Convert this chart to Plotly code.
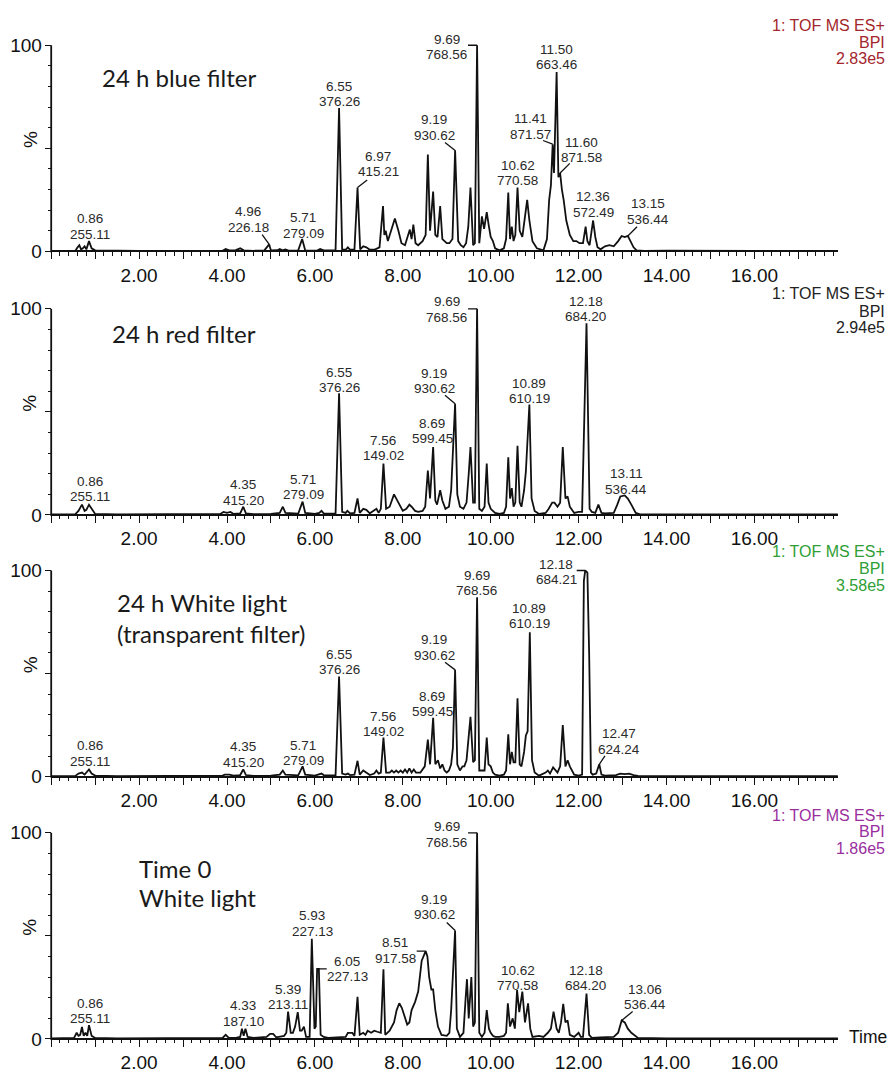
import plotly.graph_objects as go

W, H = 892, 1073

# ---------------- data: chromatogram traces (retention time [min], intensity [%]) ----------------
BLUE_TRACE = [
    (0.0, 0.3), (0.55, 0.3), (0.6, 2), (0.64, 3), (0.68, 1), (0.72, 1.5), (0.76, 2.5), (0.8, 1), (0.86, 5),
    (0.92, 1.5), (1.0, 0.5), (1.5, 0.3), (2.0, 0.2), (3.0, 0.2), (3.9, 0.3), (3.97, 1.2), (4.05, 0.5),
    (4.2, 0.6), (4.3, 1.5), (4.38, 0.5), (4.6, 0.3), (4.85, 0.5), (4.92, 2.5), (4.96, 3.4), (5.0, 0.5),
    (5.15, 0.6), (5.2, 1.2), (5.26, 0.5), (5.33, 1), (5.4, 0.4), (5.62, 0.5), (5.71, 6), (5.78, 0.5),
    (6.05, 0.4), (6.12, 1.2), (6.2, 0.5), (6.3, 0.5), (6.47, 0.6), (6.55, 69.5), (6.62, 1), (6.7, 0.8),
    (6.75, 2), (6.8, 0.8), (6.9, 1), (6.97, 31), (7.03, 1), (7.1, 2.5), (7.17, 2), (7.25, 0.8), (7.35, 0.8),
    (7.47, 2), (7.55, 22), (7.58, 8), (7.61, 10), (7.66, 5), (7.72, 9), (7.82, 16), (7.9, 10), (7.97, 4),
    (8.05, 3), (8.1, 6), (8.16, 10.6), (8.2, 6), (8.24, 13), (8.29, 4), (8.35, 3), (8.45, 5), (8.52, 8),
    (8.57, 47), (8.62, 10), (8.69, 29), (8.74, 8), (8.79, 7), (8.85, 22), (8.9, 6), (8.95, 5), (9.0, 4),
    (9.06, 4), (9.13, 6), (9.19, 49), (9.26, 5), (9.32, 3), (9.38, 2), (9.44, 4), (9.49, 12), (9.54, 31),
    (9.6, 3), (9.64, 4), (9.69, 100), (9.74, 4), (9.8, 17), (9.85, 11), (9.91, 19), (9.96, 12), (10.0, 7),
    (10.05, 5), (10.1, 1.5), (10.2, 0.5), (10.3, 1.5), (10.35, 6), (10.4, 28.5), (10.44, 6), (10.48, 12),
    (10.52, 5), (10.56, 8), (10.61, 31), (10.66, 10), (10.72, 7), (10.78, 18), (10.83, 25), (10.88, 15),
    (10.95, 5), (11.05, 1.5), (11.2, 0.5), (11.28, 6), (11.33, 25), (11.37, 32), (11.41, 52), (11.44, 38),
    (11.5, 87), (11.54, 36), (11.58, 38), (11.62, 30), (11.66, 25), (11.72, 15), (11.8, 8), (11.88, 5),
    (11.95, 5), (12.02, 4), (12.1, 4), (12.16, 12), (12.2, 5), (12.25, 3), (12.33, 15), (12.38, 7),
    (12.43, 2), (12.5, 1), (12.6, 2.5), (12.7, 3), (12.8, 2.5), (12.9, 5), (12.98, 7.5), (13.05, 7),
    (13.12, 7.5), (13.18, 5), (13.25, 2), (13.32, 0.5), (13.5, 0.3), (14.0, 0.4), (14.5, 0.3), (15.0, 0.3),
    (16.0, 0.3), (17.0, 0.3), (17.9, 0.3),
]

RED_TRACE = [
    (0.0, 0.3), (0.55, 0.4), (0.62, 2), (0.7, 5), (0.76, 2), (0.8, 2.5), (0.86, 5), (0.92, 3), (1.0, 0.5),
    (1.5, 0.3), (3.0, 0.3), (3.85, 0.5), (3.92, 1.5), (4.0, 1), (4.08, 1.5), (4.15, 0.5), (4.3, 0.8),
    (4.37, 4), (4.43, 0.8), (4.6, 0.4), (5.0, 0.5), (5.2, 1), (5.27, 4), (5.33, 1), (5.62, 0.6), (5.72, 6.5),
    (5.78, 1), (6.0, 0.5), (6.1, 1), (6.15, 2), (6.2, 0.8), (6.47, 0.6), (6.55, 59), (6.62, 1.5), (6.7, 1),
    (6.74, 2), (6.8, 0.8), (6.9, 1), (6.97, 8), (7.02, 1), (7.1, 3), (7.17, 2.5), (7.25, 0.8), (7.4, 3),
    (7.45, 1), (7.5, 3), (7.56, 25), (7.62, 3), (7.7, 4), (7.8, 10), (7.9, 6), (8.0, 2), (8.08, 3), (8.15, 5),
    (8.2, 4), (8.28, 2), (8.35, 1.5), (8.45, 2), (8.51, 4), (8.57, 21.6), (8.62, 8), (8.69, 33), (8.74, 7),
    (8.78, 5), (8.85, 12), (8.9, 7), (8.97, 3), (9.05, 4), (9.1, 12), (9.14, 30), (9.19, 54), (9.24, 10),
    (9.3, 4), (9.38, 3), (9.45, 6), (9.5, 20), (9.54, 33), (9.6, 6), (9.64, 6), (9.69, 100), (9.74, 3),
    (9.8, 2), (9.86, 4), (9.91, 25), (9.95, 6), (10.0, 3), (10.1, 1), (10.2, 0.5), (10.3, 1), (10.35, 4),
    (10.4, 28), (10.44, 8), (10.48, 13), (10.52, 4), (10.56, 6), (10.61, 33.6), (10.66, 6), (10.7, 4),
    (10.76, 12), (10.8, 21), (10.88, 53.6), (10.93, 8), (11.0, 2), (11.1, 0.5), (11.25, 1), (11.32, 3),
    (11.4, 6), (11.45, 6), (11.52, 4), (11.58, 6), (11.64, 33), (11.7, 8), (11.75, 9), (11.8, 4), (11.9, 1),
    (12.0, 1.5), (12.08, 1.5), (12.18, 93), (12.25, 3), (12.3, 1.5), (12.38, 1), (12.45, 5), (12.52, 1),
    (12.6, 0.8), (12.8, 1), (12.88, 5), (12.95, 9), (13.05, 9.5), (13.12, 8), (13.2, 5), (13.3, 1),
    (13.4, 0.3), (14.0, 0.3), (15.0, 0.4), (16.0, 0.3), (17.0, 0.3), (17.9, 0.3),
]

WHITE_TRACE = [
    (0.0, 0.3), (0.55, 0.4), (0.62, 1.5), (0.7, 2), (0.76, 1), (0.8, 2), (0.86, 3.5), (0.92, 1.5), (1.0, 0.5),
    (1.5, 0.3), (3.0, 0.3), (3.9, 0.5), (3.95, 1), (4.05, 1), (4.15, 0.5), (4.3, 0.8), (4.37, 3.5),
    (4.43, 0.8), (4.6, 0.4), (5.0, 0.5), (5.2, 1), (5.27, 3), (5.33, 1), (5.62, 0.6), (5.72, 5), (5.78, 1),
    (6.0, 0.5), (6.1, 1), (6.15, 1.5), (6.2, 0.8), (6.47, 0.6), (6.55, 48.6), (6.62, 1.5), (6.7, 1),
    (6.75, 1.5), (6.8, 0.8), (6.9, 1), (6.97, 7.7), (7.02, 1), (7.1, 3), (7.17, 2), (7.25, 0.8), (7.35, 1.5),
    (7.4, 3), (7.45, 1.5), (7.5, 2), (7.56, 19), (7.62, 2), (7.7, 2), (7.75, 3), (7.8, 2), (7.85, 3),
    (7.9, 2), (7.95, 3), (8.0, 2), (8.05, 3.5), (8.1, 2), (8.15, 4), (8.2, 2), (8.25, 3.5), (8.3, 2),
    (8.4, 2), (8.5, 5), (8.57, 18), (8.62, 6), (8.69, 28.5), (8.74, 6), (8.8, 8), (8.85, 4), (8.9, 6),
    (8.95, 3), (9.0, 2), (9.05, 3), (9.1, 6), (9.14, 14), (9.19, 51.8), (9.24, 6), (9.3, 3), (9.36, 5),
    (9.4, 5), (9.45, 8), (9.5, 18), (9.54, 29), (9.6, 7), (9.64, 8), (9.69, 87), (9.74, 3), (9.8, 3),
    (9.86, 3), (9.91, 19), (9.95, 6), (10.0, 5), (10.05, 2), (10.1, 1), (10.2, 0.5), (10.3, 1), (10.35, 3),
    (10.4, 20.5), (10.44, 6), (10.48, 12), (10.52, 7), (10.56, 7), (10.61, 38), (10.66, 6), (10.7, 5),
    (10.76, 12), (10.8, 20), (10.84, 22), (10.89, 70), (10.94, 8), (11.0, 2), (11.1, 0.5), (11.2, 1.5),
    (11.25, 2), (11.3, 3), (11.35, 1.5), (11.42, 4.5), (11.47, 3), (11.52, 2), (11.58, 5), (11.64, 25),
    (11.7, 5), (11.75, 8), (11.8, 5), (11.9, 1), (12.0, 0.5), (12.08, 1), (12.12, 95), (12.15, 100),
    (12.2, 99), (12.24, 60), (12.28, 2), (12.32, 1), (12.4, 1.5), (12.47, 6), (12.52, 1), (12.6, 0.5),
    (12.85, 0.8), (12.95, 1.5), (13.05, 1.2), (13.15, 1.5), (13.25, 0.8), (13.35, 0.4), (14.0, 0.3),
    (17.9, 0.3),
]

TIME0_TRACE = [
    (0.0, 0.3), (0.52, 0.5), (0.58, 3), (0.62, 1.5), (0.66, 2), (0.7, 5.8), (0.74, 1.5), (0.78, 3),
    (0.82, 1.5), (0.86, 6.7), (0.92, 1.5), (1.0, 0.5), (1.5, 0.3), (3.0, 0.3), (3.9, 0.5), (3.97, 2),
    (4.04, 0.5), (4.2, 0.5), (4.3, 1), (4.34, 5), (4.38, 1.5), (4.42, 5), (4.47, 1), (4.6, 0.5), (4.9, 1),
    (4.98, 2.5), (5.05, 2.5), (5.12, 0.8), (5.2, 1), (5.3, 1.5), (5.35, 3), (5.39, 13.3), (5.45, 3),
    (5.5, 3), (5.55, 6), (5.61, 13), (5.66, 4), (5.7, 4), (5.75, 6), (5.8, 1), (5.88, 1), (5.93, 48.6),
    (5.99, 5), (6.02, 6), (6.05, 34), (6.09, 34), (6.13, 2), (6.2, 1), (6.3, 0.5), (6.5, 0.8), (6.7, 1),
    (6.75, 3), (6.85, 3), (6.9, 1.5), (6.97, 20.5), (7.02, 2), (7.1, 3), (7.15, 2), (7.2, 4), (7.28, 3),
    (7.35, 4), (7.42, 3.5), (7.5, 3), (7.56, 33.8), (7.6, 2), (7.7, 4), (7.8, 8), (7.86, 14), (7.92, 17.3),
    (7.98, 15), (8.05, 10), (8.1, 7), (8.15, 8), (8.2, 14), (8.28, 18), (8.35, 23), (8.43, 38), (8.48, 41),
    (8.52, 42.6), (8.56, 40), (8.6, 30), (8.65, 24), (8.69, 24), (8.74, 14), (8.8, 6), (8.88, 2),
    (8.95, 1.5), (9.0, 1.5), (9.06, 3), (9.1, 14), (9.19, 52.6), (9.23, 5), (9.3, 1), (9.38, 3), (9.43, 20),
    (9.46, 29), (9.5, 10), (9.53, 20), (9.56, 30), (9.6, 6), (9.64, 8), (9.69, 100), (9.74, 3), (9.8, 1),
    (9.86, 3), (9.91, 14), (9.96, 5), (10.0, 3), (10.05, 1.5), (10.1, 1), (10.2, 1), (10.3, 1.5),
    (10.35, 3), (10.39, 17.3), (10.44, 6), (10.5, 10), (10.55, 5), (10.6, 23.7), (10.65, 13), (10.72, 23),
    (10.78, 8), (10.85, 17.3), (10.9, 5), (10.95, 1), (11.1, 1.5), (11.2, 1), (11.3, 3), (11.37, 5),
    (11.43, 13.3), (11.5, 5), (11.55, 3), (11.6, 8), (11.65, 17), (11.7, 8), (11.75, 9), (11.8, 2),
    (11.9, 1), (12.0, 3), (12.05, 1), (12.1, 1), (12.18, 22), (12.24, 2), (12.3, 0.5), (12.5, 0.8),
    (12.7, 0.8), (12.8, 1), (12.9, 3), (12.98, 9), (13.05, 8), (13.12, 5), (13.2, 3), (13.28, 1.5),
    (13.35, 0.5), (14.0, 0.3), (17.9, 0.3),
]

# peak labels: (retention time, m/z)
BLUE_LABELS = [("0.86", "255.11"), ("4.96", "226.18"), ("5.71", "279.09"), ("6.55", "376.26"),
               ("6.97", "415.21"), ("9.69", "768.56"), ("9.19", "930.62"), ("10.62", "770.58"),
               ("11.41", "871.57"), ("11.50", "663.46"), ("11.60", "871.58"), ("12.36", "572.49"),
               ("13.15", "536.44")]
RED_LABELS = [("0.86", "255.11"), ("4.35", "415.20"), ("5.71", "279.09"), ("6.55", "376.26"),
              ("7.56", "149.02"), ("8.69", "599.45"), ("9.19", "930.62"), ("9.69", "768.56"),
              ("10.89", "610.19"), ("12.18", "684.20"), ("13.11", "536.44")]
WHITE_LABELS = [("0.86", "255.11"), ("4.35", "415.20"), ("5.71", "279.09"), ("6.55", "376.26"),
                ("7.56", "149.02"), ("8.69", "599.45"), ("9.19", "930.62"), ("9.69", "768.56"),
                ("10.89", "610.19"), ("12.18", "684.21"), ("12.47", "624.24")]
TIME0_LABELS = [("0.86", "255.11"), ("4.33", "187.10"), ("5.39", "213.11"), ("5.93", "227.13"),
                ("6.05", "227.13"), ("8.51", "917.58"), ("9.19", "930.62"), ("9.69", "768.56"),
                ("10.62", "770.58"), ("12.18", "684.20"), ("13.06", "536.44")]

# leader lines: ((start t, start %), (peak t, peak %))
BLUE_LEADERS = [((4.80, 8.2), (4.96, 3.4)), ((7.19, 34.6), (6.97, 31)), ((9.484, 100), (9.69, 100)),
                ((8.96, 52.8), (9.19, 49)), ((11.19, 53.8), (11.41, 52)), ((11.80, 42.7), (11.58, 38)),
                ((13.33, 12), (13.12, 7.5))]
RED_LEADERS = [((8.96, 58.1), (9.19, 54)), ((9.484, 100), (9.69, 100))]
WHITE_LEADERS = [((8.96, 55.5), (9.19, 51.8)), ((11.957, 100), (12.15, 100)), ((12.60, 10.1), (12.47, 6))]
TIME0_LEADERS = [((6.27, 34), (6.09, 34)), ((8.316, 42.6), (8.52, 42.6)), ((9.0, 56.5), (9.19, 52.6)),
                 ((9.484, 100), (9.69, 100)), ((13.23, 13.3), (12.98, 9))]

PANEL_TITLES = [["24 h blue filter"], ["24 h red filter"],
                ["24 h White light", "(transparent filter)"], ["Time 0", "White light"]]
SCALE_TEXT = ["2.83e5", "2.94e5", "3.58e5", "1.86e5"]

# axis ticks: fine ruler every 0.2 min, long ticks every minute, labels every 2 min
X_FINE_TICKS = [round(0.2 * k, 1) for k in range(90)]
X_FINE_TEXT = [f"{v:.2f}" if (v > 0 and abs(v - round(v)) < 1e-9 and round(v) % 2 == 0) else ""
               for v in X_FINE_TICKS]
X_LONG_TICKS = list(range(0, 18))
Y_FINE_TICKS = list(range(0, 101, 10))
Y_FINE_TEXT = ["0" if v == 0 else ("100" if v == 100 else "") for v in Y_FINE_TICKS]
Y_LONG_TICKS = [0, 50, 100]

# ---------------- layout (pixel placements) ----------------
X0PX, PXPM, XMAX = 51.2, 43.95, 17.9   # x pixel of t=0, pixels per minute
PXPP, YMIN, YMAX = 2.083, -3, 104      # pixels per percent
Y0PX = [252.0, 518.3, 782.7, 1047.7]   # pixel row of 0 %
HEADER_COLORS = ["#a3262c", "#222222", "#2e9e35", "#9a2e9e"]
TITLE_POS = [(100, [76]), (110, [335]), (115, [606.7, 637.7]), (137.3, [875, 905])]
LABEL_POS = [
    [(90, 219), (248, 212), (303, 218), (339, 85), (378, 156), (447, 38), (434, 119), (517.7, 165),
     (530, 118), (556, 48), (581.7, 142), (593, 197), (648, 204)],
    [(90, 484.3), (243, 488), (303, 482), (339, 374), (383, 443), (432, 426), (434, 375), (447, 303),
     (529, 385), (585.7, 302.7), (626, 476.7)],
    [(90, 751.7), (243, 752.7), (303, 750.7), (339, 659), (383, 721.7), (432, 701.7), (434, 644.3),
     (476.7, 579.3), (529.3, 612.7), (556.2, 568.3), (619, 739.3)],
    [(90, 1011.7), (243, 1014.3), (288.3, 997.7), (312.3, 923.3), (347, 969.3), (395.3, 950.7),
     (434, 906.7), (447, 833.3), (517.7, 978.3), (585.7, 978.3), (645, 997.7)],
]
HEADER_Y = [[24, 40.7, 57.3], [295, 312.7, 329], [555, 572.7, 589.3], [821.7, 838.3, 855]]

NUM_FONT = "Liberation Sans, Arial, sans-serif"
TITLE_FONT = "Lato, Open Sans, sans-serif"
INK = "#111111"

traces = [BLUE_TRACE, RED_TRACE, WHITE_TRACE, TIME0_TRACE]
labels = [BLUE_LABELS, RED_LABELS, WHITE_LABELS, TIME0_LABELS]
leaders = [BLUE_LEADERS, RED_LEADERS, WHITE_LEADERS, TIME0_LEADERS]


def px(x):
    return x / W


def py(y):
    return 1 - y / H


fig = go.Figure()
annotations = []
shapes = []
layout_axes = {}
X_DOMAIN = [px(X0PX), px(X0PX + XMAX * PXPM)]

for i in range(4):
    n = "" if i == 0 else str(i + 1)
    m = str(i + 5)
    y0 = Y0PX[i]
    y_domain = [py(y0 - YMIN * PXPP), py(y0 - YMAX * PXPP)]
    xs = [p[0] for p in traces[i]]
    ys = [p[1] for p in traces[i]]
    fig.add_trace(go.Scatter(x=xs, y=ys, mode="lines", xaxis="x" + n, yaxis="y" + n,
                             line=dict(color=INK, width=1.8), hoverinfo="skip", showlegend=False))
    # empty trace carrying the long-tick overlay axes
    fig.add_trace(go.Scatter(x=[None], y=[None], mode="lines", xaxis="x" + m, yaxis="y" + m,
                             hoverinfo="skip", showlegend=False))

    layout_axes["xaxis" + n] = dict(
        domain=X_DOMAIN, range=[0, XMAX], anchor="free", position=py(y0),
        showline=True, linecolor=INK, linewidth=1.8, showgrid=False, zeroline=False,
        ticks="outside", tickmode="array", tickvals=X_FINE_TICKS, ticktext=X_FINE_TEXT,
        ticklen=3.5, tickwidth=1.2, tickcolor=INK,
        tickfont=dict(family=NUM_FONT, size=19, color=INK), ticklabelstandoff=3,
        fixedrange=True,
    )
    layout_axes["xaxis" + m] = dict(
        overlaying="x" + n, domain=X_DOMAIN, range=[0, XMAX], anchor="free", position=py(y0),
        showline=False, showgrid=False, zeroline=False, showticklabels=False,
        ticks="outside", tickmode="array", tickvals=X_LONG_TICKS, ticklen=7, tickwidth=1.4,
        tickcolor=INK, fixedrange=True,
    )
    layout_axes["yaxis" + n] = dict(
        domain=y_domain, range=[YMIN, YMAX], anchor="free",
        position=px(X0PX), showline=False, showgrid=False, zeroline=False,
        ticks="outside", tickmode="array", tickvals=Y_FINE_TICKS, ticktext=Y_FINE_TEXT,
        ticklen=3.5, tickwidth=1.2, tickcolor=INK,
        tickfont=dict(family=NUM_FONT, size=19, color=INK), ticklabelstandoff=2,
        fixedrange=True,
    )
    layout_axes["yaxis" + m] = dict(
        overlaying="y" + n, domain=y_domain, range=[YMIN, YMAX], anchor="free", position=px(X0PX),
        showline=False, showgrid=False, zeroline=False, showticklabels=False,
        ticks="outside", tickmode="array", tickvals=Y_LONG_TICKS, ticklen=6, tickwidth=1.4,
        tickcolor=INK, fixedrange=True,
    )
    # y axis line from 0 to 100 %
    shapes.append(dict(type="line", xref="paper", yref="paper", x0=px(X0PX), x1=px(X0PX),
                       y0=py(y0 + 0.9), y1=py(y0 - 100 * PXPP), line=dict(color=INK, width=1.8)))
    # % label
    annotations.append(dict(x=px(30), y=py(y0 - 54 * PXPP), xref="paper", yref="paper", text="%",
                            textangle=-90, showarrow=False, xanchor="center", yanchor="middle",
                            font=dict(family=NUM_FONT, size=19, color=INK)))
    # panel title
    tx, tys = TITLE_POS[i]
    for line, ty in zip(PANEL_TITLES[i], tys):
        annotations.append(dict(x=px(tx), y=py(ty), xref="paper", yref="paper", text=line,
                                showarrow=False, xanchor="left", yanchor="middle",
                                font=dict(family=TITLE_FONT, size=24, color="#1a1a1a")))
    # header (top right)
    for line, hy in zip(["1: TOF MS ES+", "BPI", SCALE_TEXT[i]], HEADER_Y[i]):
        annotations.append(dict(x=px(887), y=py(hy), xref="paper", yref="paper", text=line,
                                showarrow=False, xanchor="right", yanchor="middle",
                                font=dict(family=NUM_FONT, size=16, color=HEADER_COLORS[i])))
    # peak labels
    for (rt, mz), (cx, cy) in zip(labels[i], LABEL_POS[i]):
        for k, txt in enumerate([rt, mz]):
            annotations.append(dict(x=px(cx), y=py(cy + 15.5 * k), xref="paper", yref="paper",
                                    text=txt, showarrow=False, xanchor="center", yanchor="middle",
                                    font=dict(family=NUM_FONT, size=13.5, color="#2a2a2a")))
    # leader lines
    for (a, b) in leaders[i]:
        shapes.append(dict(type="line", xref="x" + n, yref="y" + n, x0=a[0], y0=a[1], x1=b[0], y1=b[1],
                           line=dict(color=INK, width=1.3)))

annotations.append(dict(x=px(889), y=py(1046), xref="paper", yref="paper", text="Time",
                        showarrow=False, xanchor="right", yanchor="middle",
                        font=dict(family=NUM_FONT, size=17.5, color=INK)))

fig.update_layout(
    width=W, height=H, margin=dict(l=0, r=0, t=0, b=0),
    paper_bgcolor="white", plot_bgcolor="white",
    showlegend=False, annotations=annotations, shapes=shapes,
    **layout_axes,
)

fig.write_html("out.html", config={"displayModeBar": False})
